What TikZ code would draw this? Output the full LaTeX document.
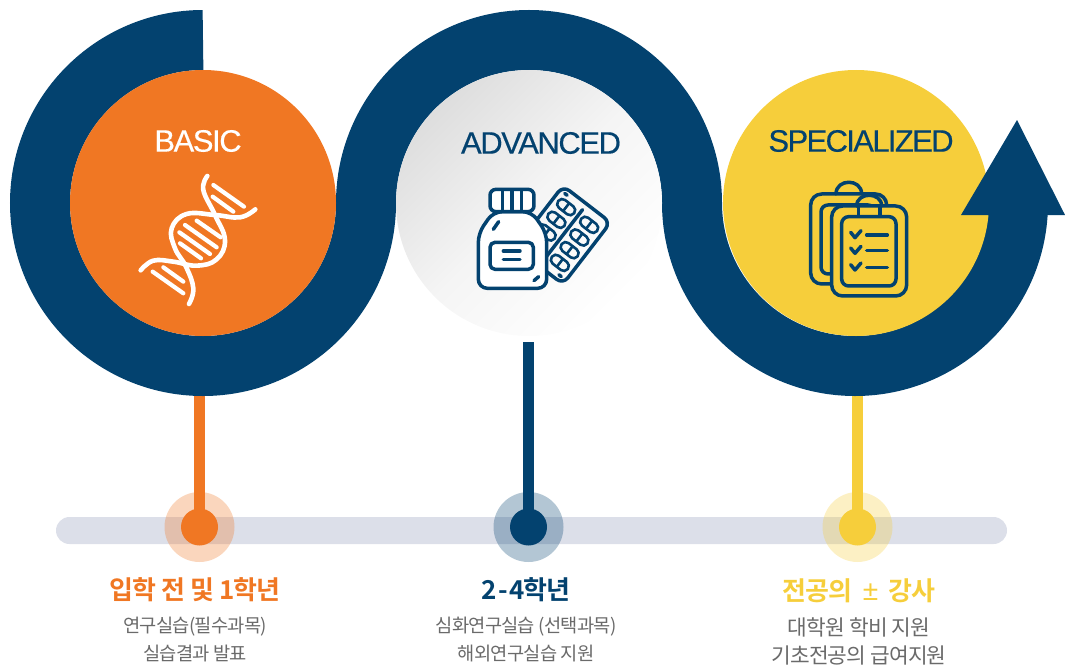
\documentclass[tikz,border=0pt]{standalone}
\usepackage{fontspec}
\setmainfont{Liberation Sans}
\newfontfamily\kr[LetterSpace=-4]{Noto Sans CJK KR}
\newfontfamily\krb[LetterSpace=-4]{Noto Sans CJK KR Bold}
\newfontfamily\en[LetterSpace=-4.6,FakeBold=0.35]{Liberation Sans}
\newfontfamily\ent[LetterSpace=-5.3,FakeBold=0.35]{Liberation Sans}
\newfontfamily\plain{Liberation Sans}
\definecolor{navy}{HTML}{03426F}
\definecolor{orng}{HTML}{F07723}
\definecolor{yllw}{HTML}{F6CE3B}
\definecolor{barc}{HTML}{DCDFE9}
\definecolor{graytxt}{HTML}{6A6A6A}
\tikzset{
 ribbon/.style={draw=navy,line width=60pt},
 stem/.style={line width=11pt},
 disc/.style={circle,inner sep=0pt,minimum size=266pt},
 halo/.style={circle,inner sep=0pt,minimum size=70pt,opacity=.3},
 dot/.style={circle,inner sep=0pt,minimum size=37pt},
 title/.style={font=\en\fontsize{31}{31}\selectfont,inner sep=0pt},
 titleb/.style={font=\ent\fontsize{31}{31}\selectfont,inner sep=0pt},
 head/.style={font=\krb\fontsize{26}{28}\selectfont,inner sep=0pt},
 sub/.style={font=\kr\fontsize{18.7}{21}\selectfont,text=graytxt,inner sep=0pt},
 subb/.style={font=\kr\fontsize{21.4}{23}\selectfont,text=graytxt,inner sep=0pt},
 dnas/.style={draw=white,line width=4.6pt,line cap=round},
 dnar/.style={draw=white,line width=4.2pt,line cap=round},
 ico/.style={draw=navy,line width=3.5pt,line cap=round,line join=round},
 pill/.pic={\draw[draw=navy,line width=2.6pt,rounded corners=4.8pt] (-10,-5) rectangle (10,5);
            \draw[draw=navy,line width=2.6pt] (0,-5) -- (0,5);},
}
\begin{document}
\begin{tikzpicture}[x=1pt,y=-1pt]
\useasboundingbox (0,0) rectangle (1065,669);
% timeline bar
\fill[barc,rounded corners=13.5pt] (56,517) rectangle (1007,544);
% halos and dots
\node[halo,fill=orng] at (199.5,527) {};
\node[halo,fill=navy] at (528.5,527) {};
\node[halo,fill=yllw] at (857.5,527) {};
\node[dot,fill=orng] (d1) at (199.5,527) {};
\node[dot,fill=navy] (d2) at (528.5,527) {};
\node[dot,fill=yllw] (d3) at (857.5,527) {};
\coordinate (s1) at (199.5,390);
\coordinate (s2) at (528.5,342);
\coordinate (s3) at (857.5,390);
\draw[stem,orng] (s1) -- (d1.center);
\draw[stem,navy] (s2) -- (d2.center);
\draw[stem,yllw] (s3) -- (d3.center);
% ribbon
\draw[ribbon] (203,40) arc[start angle=90,end angle=360,radius=163pt]
  arc[start angle=180,end angle=0,radius=163pt]
  arc[start angle=180,end angle=360,radius=163pt] -- ++(0,-12);
% discs
\node[disc,fill=orng] (c1) at (203,203) {};
\node[disc,shading=axis,top color=black!13,bottom color=white,middle color=black!4,shading angle=45] (c2) at (529,203) {};
\node[disc,fill=yllw] (c3) at (856,203) {};
\fill[navy] (1017,120) -- (961,215) -- (1065,215) -- cycle;
% titles
\node[title,text=white] at (198,141) {BASIC};
\node[title,text=navy] at (541,143) {ADVANCED};
\node[titleb,text=navy] at (861,141) {SPECIALIZED};
% DNA
\begin{scope}[shift={(100,100)},x=.3333pt,y=-.3333pt]
\draw[dnas] plot[smooth,tension=.7] coordinates {(322,228) (310,270) (345,345) (375,420) (350,478) (290,497) (220,485) (160,482) (122,511)};
\draw[dnas] plot[smooth,tension=.7] coordinates {(466,328) (420,352) (345,345) (260,342) (215,385) (225,445) (258,500) (280,565) (267,612)};
\draw[dnar] (340,255) -- (432,320);
\draw[dnar] (338,290) -- (400,335);
\draw[dnar] (290,362) -- (362,412);
\draw[dnar] (255,375) -- (350,442);
\draw[dnar] (238,397) -- (330,462);
\draw[dnar] (240,430) -- (303,475);
\draw[dnar] (190,502) -- (250,545);
\draw[dnar] (158,515) -- (250,580);
\end{scope}
% blister
\begin{scope}[shift={(563,235)},rotate=-37.6]
\draw[ico,rounded corners=8pt] (-30,-39) rectangle (30,39);
\draw[ico] (0,-32) -- (0,31);
\foreach \a in {-14.5,14.5} \foreach \b in {-24,-8,8,24} \pic[transform shape] at (\a,\b) {pill};
\draw[ico] (-24,-34) -- (-21,-34);
\draw[ico] (24,34) -- (21,34);
\end{scope}
% bottle
\begin{scope}[shift={(450,170)},x=.3333pt,y=-.3333pt]
\draw[ico,fill=white,rounded corners=9pt] (130,125) -- (85,190) -- (85,355) -- (290,355) -- (290,190) -- (245,125) -- cycle;
\draw[ico,fill=white,rounded corners=6pt] (120,58) rectangle (252,125);
\draw[ico] (158,60) -- (158,123) (186,60) -- (186,123) (214,60) -- (214,123);
\draw[ico,rounded corners=5pt] (120,217) rectangle (250,298);
\draw[ico] (160,243) -- (210,243) (160,268) -- (210,268);
\draw[ico] (146,155) -- (130,178);
\draw[ico] (266,320) -- (252,332);
\end{scope}
% clipboards
\begin{scope}[shift={(790,170)},x=.3333pt,y=-.3333pt]
\draw[ico,rounded corners=11pt] (62,72) rectangle (290,342);
\draw[ico,rounded corners=7pt] (93,105) rectangle (255,312);
\draw[ico] (138,72) .. controls (138,25) and (215,25) .. (215,72);
\draw[ico,fill=yllw,rounded corners=11pt] (125,108) rectangle (350,378);
\draw[ico,fill=yllw,rounded corners=7pt] (155,140) rectangle (318,348);
\draw[ico] (200,108) .. controls (200,65) and (275,65) .. (275,108);
\draw[ico] (205,108) -- (205,138) (270,108) -- (270,138);
\foreach \y in {195,242,292}{
 \draw[ico] (230,\y) -- (292,\y);
 \draw[ico] (182,\y-8) -- (195,\y+8) -- (213,\y-13);
}
\end{scope}
% captions
\node[head,text=orng] at (195,590) {입학 전 및 1학년};
\node[head,text=navy] at (526,590) {2\kern1.5pt-\kern1.5pt 4학년};
\node[head,text=yllw] at (859,591) {전공의\kern3pt{\plain\fontsize{28}{28}\selectfont\ ±\ }\kern3pt 강사};
\node[sub] at (195,627) {연구실습(필수과목)};
\node[sub] at (195,653) {실습결과 발표};
\node[sub] at (526,627) {심화연구실습 (선택과목)};
\node[sub] at (526,653) {해외연구실습 지원};
\node[subb] at (859,627) {대학원 학비 지원};
\node[subb] at (859,655) {기초전공의 급여지원};
\end{tikzpicture}
\end{document}
